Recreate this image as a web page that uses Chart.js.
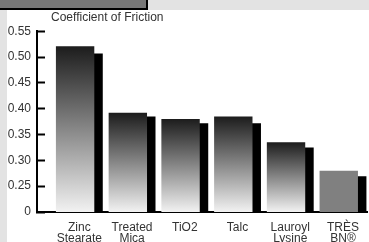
<!DOCTYPE html>
<html>
<head>
<meta charset="utf-8">
<script src="https://cdn.jsdelivr.net/npm/chart.js@4/dist/chart.umd.min.js"></script>
<style>
  html, body { margin: 0; padding: 0; }
  body { width: 369px; height: 242px; background: #e3e3e3; position: relative; overflow: hidden; }
  #box { position: absolute; left: 0; top: 0; width: 146px; height: 8px; background: #777; border-right: 2px solid #000; border-bottom: 2px solid #000; }
  #chart { position: absolute; left: 7px; top: 10px; background: #fff; }
</style>
</head>
<body>
<div id="box"></div>
<canvas id="chart" width="362" height="232"></canvas>
<script>
const categories = [['Zinc', 'Stearate'], ['Treated', 'Mica'], ['TiO2'], ['Talc'], ['Lauroyl', 'Lysine'], ['TRÈS', 'BN®']];
const frontValues = [0.521, 0.392, 0.380, 0.385, 0.335, 0.280];
const shadowValues = [0.507, 0.385, 0.372, 0.372, 0.325, 0.269];
const yTickLabels = ['0', '0.25', '0.30', '0.35', '0.40', '0.45', '0.50', '0.55'];
const titleText = 'Coefficient of Friction';

const font = { family: '"Liberation Sans", Arial, sans-serif', size: 12 };

function frontColor(ctx) {
    if (ctx.dataIndex === 5) return '#808080';
    const chart = ctx.chart;
    if (!chart.chartArea || !ctx.raw) return '#777';
    const y = chart.scales.y;
    const top = y.getPixelForValue(ctx.raw.y);
    const g = chart.ctx.createLinearGradient(0, top, 0, chart.chartArea.bottom);
    g.addColorStop(0, '#1c1c1c');
    g.addColorStop(1, '#f2f2f2');
    return g;
}

// title sits above the y axis, not centred on the chart
const titlePlugin = {
    id: 'topTitle',
    afterDraw(chart) {
        const c = chart.ctx;
        c.save();
        c.font = '12px "Liberation Sans", Arial, sans-serif';
        c.fillStyle = '#333';
        c.textBaseline = 'alphabetic';
        c.fillText(titleText, 44, 10.5);
        c.restore();
    }
};

new Chart(document.getElementById('chart'), {
    type: 'bar',
    data: {
        datasets: [
            {
                data: frontValues.map((v, i) => ({ x: i, y: v })),
                backgroundColor: frontColor,
                categoryPercentage: 0.3214,
                barPercentage: 4.53
            },
            {
                data: shadowValues.map((v, i) => ({ x: i, y: v })),
                backgroundColor: '#000',
                categoryPercentage: 0.3214,
                barPercentage: 4.53
            }
        ]
    },
    options: {
        responsive: false,
        animation: false,
        layout: { padding: { left: 0, right: 0, top: 18, bottom: 0 } },
        plugins: { legend: { display: false }, tooltip: { enabled: false } },
        scales: {
            x: {
                type: 'linear',
                offset: false,
                min: -0.803,
                max: 5.473,
                grid: { display: false, drawTicks: false, offset: false },
                border: { display: true, color: '#000', width: 2 },
                ticks: {
                    stepSize: 1,
                    includeBounds: false,
                    autoSkip: false,
                    maxRotation: 0,
                    padding: 10,
                    color: '#333',
                    font: Object.assign({ lineHeight: 0.95 }, font),
                    callback: (v) => Number.isInteger(v) && categories[v] ? categories[v] : ''
                },
                afterFit(s) { s.height = 30; }
            },
            y: {
                min: 0.2,
                max: 0.55,
                grid: { display: true, drawOnChartArea: false, drawTicks: true, tickLength: -8, tickWidth: 2, tickColor: '#000' },
                border: { display: true, color: '#000', width: 2 },
                ticks: {
                    stepSize: 0.05,
                    padding: 14,
                    color: '#333',
                    font: font,
                    callback: (v, i) => yTickLabels[i]
                },
                afterFit(s) { s.width = 30; }
            }
        }
    },
    plugins: [titlePlugin]
});
</script>
</body>
</html>
